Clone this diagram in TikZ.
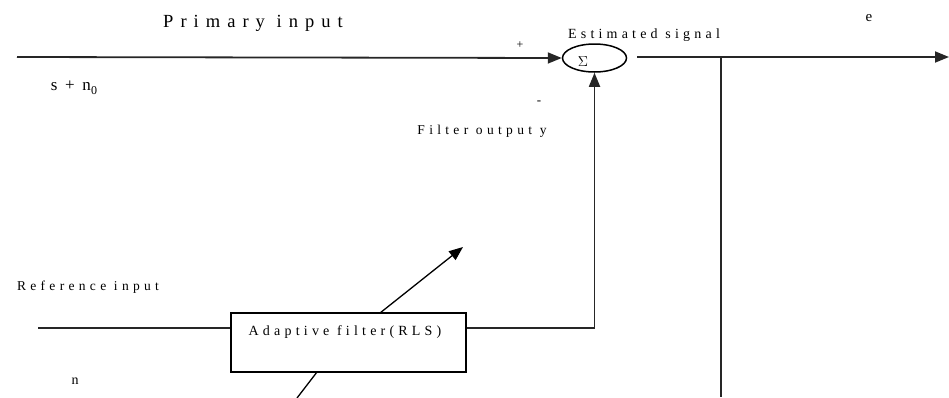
\documentclass[tikz,border=0pt]{standalone}
\usepackage{fontspec}
\setmainfont{Liberation Serif}
\newfontfamily\wideA[LetterSpace=38]{Liberation Serif}
\newfontfamily\wideB[LetterSpace=30]{Liberation Serif}
\newfontfamily\wideC[LetterSpace=32]{Liberation Serif}
\newfontfamily\wideD[LetterSpace=45]{Liberation Serif}
\usetikzlibrary{arrows.meta,shapes.geometric}
\begin{document}
\begin{tikzpicture}[x=1pt,y=-1pt,
  wire/.style={line width=1.8pt,draw=black!85},
  tip/.style={-{Triangle[length=14pt,width=11pt]}},
  lbl/.style={inner sep=0pt,anchor=base,font=\wideB\fontsize{14}{16}\selectfont},
  lblc/.style={inner sep=0pt,anchor=base,font=\wideC\fontsize{13.5}{16}\selectfont},
  big/.style={inner sep=0pt,anchor=base,font=\wideA\fontsize{18.5}{20}\selectfont}]
\useasboundingbox (0,0) rectangle (949,397);
% summing junction
\node[ellipse,draw,line width=1.5pt,minimum width=64pt,minimum height=28pt,inner sep=0pt] (sum) at (594.5,58) {};
\node[inner sep=0pt,font=\fontsize{14}{15}\selectfont] (sig) at (583,62) {$\Sigma$};
% adaptive filter box
\node[draw,line width=1.4pt,minimum width=235pt,minimum height=59pt,inner sep=0pt] (box) at (348.5,342.5) {};
\node[lbl] (boxt) at (345,335) {Adaptive filter(RLS)};
% coordinates
\coordinate (pin) at (17,57);
\coordinate (oout) at (637,57);
\coordinate (eend) at (949,57);
\coordinate (tap) at (721,57);
\coordinate (tapend) at (721,397);
\coordinate (refin) at (38,328);
\coordinate (ystart) at (380,313);
\coordinate (ytip) at (463,247);
\coordinate (lowstart) at (297,398);
\coordinate (lowend) at (317,372);
% connectors
\draw[wire,tip] (pin) -- (sum.west);
\draw[wire,tip] (oout) -- (eend);
\draw[wire] (tap) -- (tapend);
\draw[wire] (refin) -- (refin -| box.west);
\draw[wire,tip] (box.east |- refin) -| (sum.south);
\draw[line width=1.3pt,tip] (ystart) -- (ytip);
\draw[line width=1.3pt] (lowstart) -- (lowend);
% labels
\node[big] (prim) at (253,27) {Primary input};
\node[inner sep=0pt,font=\fontsize{12}{14}\selectfont] (plus) at (520,45) {+};
\node[inner sep=0pt,font=\fontsize{13}{14}\selectfont] (minus) at (539,103) {-};
\node[lbl] (est) at (644,38) {Estimated signal};
\node[inner sep=0pt,anchor=base,font=\fontsize{15}{16}\selectfont] (e) at (869,21) {e};
\node[inner sep=0pt,anchor=base,font=\wideD\fontsize{17}{18}\selectfont] (sn) at (74,90) {s+n\raisebox{-4pt}{\fontsize{12}{13}\selectfont 0}};
\node[lblc] (fo) at (482,134) {Filter output y};
\node[lblc] (ri) at (88,290) {Reference input};
\node[inner sep=0pt,anchor=base,font=\fontsize{14}{16}\selectfont] (n) at (75,384) {n};
\end{tikzpicture}
\end{document}
